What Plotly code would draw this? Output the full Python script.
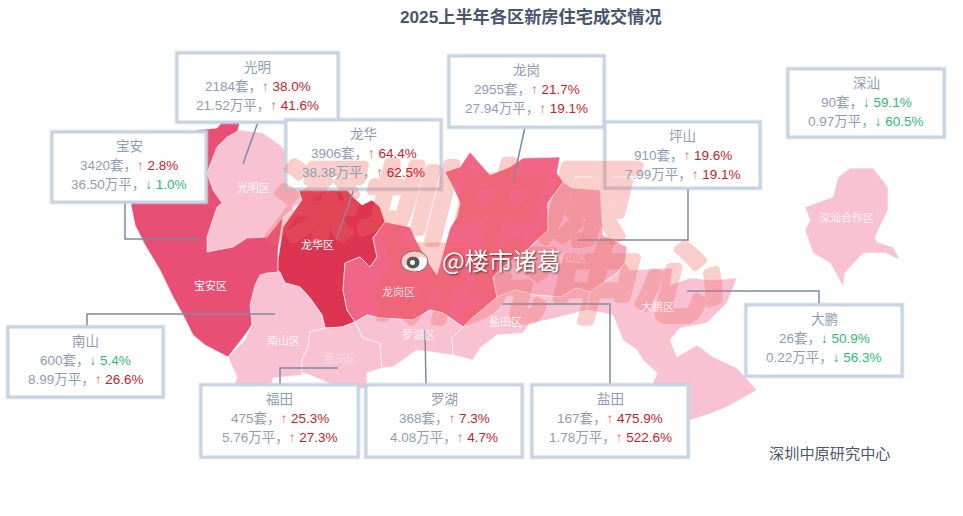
import plotly.graph_objects as go

# ---- data ----
districts = ["光明", "宝安", "龙华", "龙岗", "坪山", "深汕", "南山", "福田", "罗湖", "盐田", "大鹏"]
units = [2184, 3420, 3906, 2955, 910, 90, 600, 475, 368, 167, 26]
units_yoy = [38.0, 2.8, 64.4, 21.7, 19.6, -59.1, -5.4, 25.3, 7.3, 475.9, -50.9]
area = ["21.52", "36.50", "38.38", "27.94", "7.99", "0.97", "8.99", "5.76", "4.08", "1.78", "0.22"]
area_yoy = [41.6, -1.0, 62.5, 19.1, 19.1, -60.5, 26.6, 27.3, 4.7, 522.6, -56.3]

# district outlines, drawn in the map's own coordinate plane
outline_baoan = [(197,130),(217,128),(222,122),(240,122),(238,130),(240,140),(300,200),(283,217),(278,250),(278,275),(267,273),(258,283),(253,300),(252,325),(245,335),(235,348),(228,357),(205,345),(193,335),(183,315),(172,295),(160,270),(145,245),(135,225),(131,205),(133,190),(150,170),(180,140)]
outline_guangming = [(240,130),(263,133),(283,147),(287,157),(302,200),(283,217),(267,237),(247,238),(233,247),(207,252),(207,237),(217,207),(222,203),(213,190),(207,173),(217,147),(227,137)]
outline_longhua = [(297,185),(343,185),(353,197),(362,205),(372,200),(380,207),(385,222),(373,238),(377,257),(370,267),(360,257),(345,263),(343,290),(347,310),(355,322),(342,327),(325,328),(322,315),(310,298),(300,287),(285,283),(278,270),(278,260),(283,227),(302,200)]
outline_longgang = [(470,152),(480,163),(490,175),(510,167),(523,158),(560,157),(557,173),(563,182),(548,203),(548,230),(527,250),(503,267),(493,277),(497,297),(470,320),(463,327),(443,313),(430,310),(413,320),(380,318),(367,315),(355,322),(347,310),(343,290),(345,263),(360,257),(370,267),(377,257),(373,238),(385,222),(410,227),(417,242),(430,265),(437,275),(447,240),(450,228),(457,217),(460,203),(453,187),(445,172),(460,167)]
outline_pingshan = [(563,182),(572,188),(600,190),(603,235),(627,247),(625,263),(617,273),(590,292),(577,288),(560,297),(535,295),(515,290),(497,297),(493,277),(503,267),(527,250),(548,230),(548,203)]
outline_nanshan = [(228,357),(245,340),(252,325),(250,305),(255,285),(260,275),(267,273),(280,272),(285,283),(300,287),(310,298),(322,315),(325,328),(310,332),(308,347),(302,360),(302,375),(273,378),(270,390),(233,390),(237,377)]
outline_futian = [(310,332),(325,328),(342,327),(355,322),(363,338),(380,343),(382,368),(367,373),(367,388),(350,390),(333,385),(310,375),(302,373),(302,360),(308,347)]
outline_luohu = [(355,322),(367,315),(380,318),(413,320),(430,310),(443,313),(463,327),(452,338),(453,355),(417,350),(393,367),(382,368),(380,343),(363,338)]
outline_yantian = [(463,327),(470,320),(497,297),(515,290),(535,295),(560,297),(577,288),(590,292),(587,310),(547,320),(530,323),(523,333),(497,335),(480,348),(473,360),(453,355),(452,338)]
outline_dapeng = [(590,292),(617,273),(625,263),(630,270),(673,268),(670,285),(690,278),(713,280),(737,278),(727,303),(707,323),(680,328),(670,340),(677,357),(697,345),(713,357),(737,368),(757,390),(727,407),(707,415),(690,420),(677,437),(667,433),(650,390),(657,373),(643,360),(637,350),(623,340),(613,315),(587,310)]
outline_shenshan = [(850,168),(873,168),(888,187),(888,210),(875,237),(877,242),(893,247),(900,260),(885,253),(863,253),(845,273),(843,287),(838,277),(830,263),(813,253),(805,230),(810,220),(805,207),(833,197),(838,177)]

PALE = "#f8c2d3"
regions = [
    (outline_baoan, "#e94f75"), (outline_guangming, PALE), (outline_longhua, "#dd3452"),
    (outline_longgang, "#f16586"), (outline_pingshan, "#f5a9bd"), (outline_nanshan, PALE),
    (outline_futian, PALE), (outline_luohu, PALE), (outline_yantian, PALE),
    (outline_dapeng, PALE), (outline_shenshan, PALE),
]

region_labels = ["宝安区", "光明区", "龙华区", "龙岗区", "南山区", "罗湖区", "盐田区", "大鹏区", "深汕合作区", "坪山区", "福田区"]
label_xy = [(210,285),(253,187),(317,244),(398,291),(283,340),(418,334),(505,321),(657,306),(846,217),(570,257),(340,358)]
label_alpha = [1, .85, 1, .8, .85, .8, .85, .8, .8, .35, .35]

# callout layout
boxes = [(177,53,338,122),(52,132,206,202),(286,120,441,189),(449,56,604,127),(605,122,760,188),
         (788,69,944,137),(8,327,163,397),(201,385,358,457),(366,385,522,457),(532,385,688,457),(746,305,902,376)]
leaders = [[(258,122),(243,164)],[(125,202),(125,239),(200,239)],[(354,189),(336,240)],[(525,127),(513,182)],
           [(688,188),(688,240),(578,240)],[(87,327),(87,314),(275,314)],[(280,385),(280,368),(338,368)],
           [(426,385),(425,330)],[(610,385),(610,304),(502,304)],[(819,305),(819,291),(687,291)]]

TXT = "#8f9db5"
CJK = "Liberation Sans, Noto Sans CJK SC"


def change(v):
    if v >= 0:
        return f'<span style="color:#ea6a78">↑</span><span style="color:#c0252f"> {v:.1f}%</span>'
    return f'<span style="color:#2ea568">↓</span><span style="color:#35b67a"> {abs(v):.1f}%</span>'


fig = go.Figure()
for outline, colour in regions:
    fig.add_trace(go.Scatter(
        x=[p[0] for p in outline] + [outline[0][0]],
        y=[p[1] for p in outline] + [outline[0][1]],
        mode="lines", fill="toself", fillcolor=colour,
        line=dict(color="rgba(255,255,255,0.75)", width=0.8),
        hoverinfo="skip", showlegend=False))

shapes = []
for path in leaders:
    d = "M" + " L".join(f"{x},{y}" for x, y in path)
    shapes.append(dict(type="path", path=d, line=dict(color="#7d8ba3", width=1.5), layer="above"))
for x0, y0, x1, y1 in boxes:
    shapes.append(dict(type="rect", x0=x0, y0=y0, x1=x1, y1=y1, fillcolor="white",
                       line=dict(color="rgba(190,205,225,0.4)", width=5), layer="above"))
    shapes.append(dict(type="rect", x0=x0, y0=y0, x1=x1, y1=y1, fillcolor="white",
                       line=dict(color="#c6d4e4", width=3), layer="above"))

# weibo mark
shapes += [
    dict(type="circle", x0=401, y0=251, x1=428, y1=272, fillcolor="white", line=dict(color="#666", width=1), layer="above"),
    dict(type="circle", x0=406, y0=256, x1=420, y1=269, fillcolor="#555555", line=dict(color="white", width=1), layer="above"),
    dict(type="circle", x0=410, y0=260, x1=415, y1=265, fillcolor="white", line=dict(width=0), layer="above"),
    dict(type="path", path="M421,250 Q431,247 431,258", line=dict(color="white", width=2.5), layer="above"),
    dict(type="path", path="M423,244 Q437,240 436,258", line=dict(color="white", width=2), layer="above"),
]

ann = []
# big translucent watermark, sits over the map and the boxes
WM = "#ee6a60"
wm_shadow = ", ".join(f"{dx}px {dy}px 0 {WM}" for dx, dy in [(3,0),(-3,0),(0,3),(0,-3),(2,2),(-2,-2),(2,-2),(-2,2)])
for txt, x, y, size in [("深圳中原", 452, 197, 91), ("研究中心", 545, 277, 87)]:
    ann.append(dict(x=x, y=y, text=txt, showarrow=False, opacity=0.32,
                    font=dict(family="Noto Sans CJK SC", size=size, color=WM,
                              weight=700, style="italic", shadow=wm_shadow)))

for name, (x, y), a in zip(region_labels, label_xy, label_alpha):
    ann.append(dict(x=x, y=y, text=name, showarrow=False,
                    font=dict(family="Noto Sans CJK SC", size=11, color=f"rgba(255,255,255,{a})")))

for i, name in enumerate(districts):
    x0, y0, x1, y1 = boxes[i]
    cx = (x0 + x1) / 2
    lines = [name, f"{units[i]}套，{change(units_yoy[i])}", f"{area[i]}万平，{change(area_yoy[i])}"]
    for line, dy in zip(lines, (14, 33, 52)):
        ann.append(dict(x=cx, y=y0 + dy, text=line, showarrow=False,
                        font=dict(family=CJK, size=13.5, color=TXT)))

ann.append(dict(x=531, y=17, text="<b>2025上半年各区新房住宅成交情况</b>", showarrow=False,
                font=dict(family="Liberation Sans, Noto Sans CJK SC", size=17.2, color="#4a5570")))
ann.append(dict(x=830, y=452, text="深圳中原研究中心", showarrow=False,
                font=dict(family="Noto Sans CJK SC", size=15.2, color="#4b5870")))
ann.append(dict(x=501, y=259, text="@楼市诸葛", showarrow=False,
                font=dict(family="Noto Sans CJK SC", size=24, color="white",
                          shadow="1px 1px 2px rgba(0,0,0,0.65)")))

fig.update_layout(
    width=963, height=516, margin=dict(l=0, r=0, t=0, b=0),
    paper_bgcolor="white", plot_bgcolor="white", showlegend=False,
    xaxis=dict(range=[0, 963], visible=False, fixedrange=True),
    yaxis=dict(range=[516, 0], visible=False, fixedrange=True),
    shapes=shapes, annotations=ann)
fig.write_html("out.html", config=dict(displayModeBar=False),
               post_script="document.body.style.margin='0';document.body.style.overflow='hidden';")
